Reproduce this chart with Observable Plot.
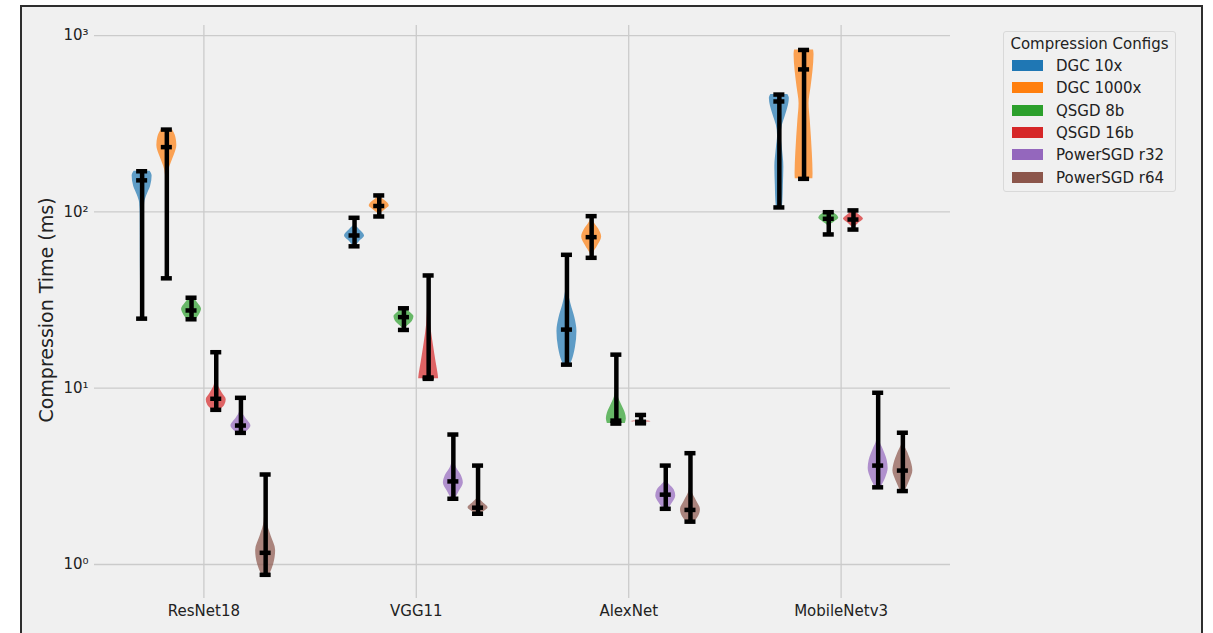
<!DOCTYPE html>
<html><head><meta charset="utf-8">
<script src="https://cdn.jsdelivr.net/npm/d3@7"></script>
<script src="https://cdn.jsdelivr.net/npm/@observablehq/plot@0.6"></script>
<style>
html,body{margin:0;padding:0;background:#fff;overflow:hidden;width:1213px;height:633px;font-family:"DejaVu Sans",sans-serif;}
#fig{position:absolute;left:20px;top:5px;width:1179px;height:700px;border:2px solid #2e2e2e;background:#f0f0f0;}
#chart{position:absolute;left:0;top:0;}
#legend{position:absolute;left:1003px;top:31px;width:173px;height:161px;border:1px solid #d9d9d9;border-radius:3px;box-sizing:border-box;color:#222;font-size:15px;}
#legend .title{position:absolute;left:0;right:0;top:3px;text-align:center;line-height:18px;white-space:nowrap;}
#legend .item{position:absolute;left:8px;height:18px;line-height:18px;white-space:nowrap;}
#legend .sw{position:absolute;left:0;top:3px;width:31px;height:11px;}
#legend .lab{position:absolute;left:44px;top:0;}
</style></head>
<body>
<div id="fig"></div>
<div id="chart"></div>
<div id="legend"></div>
<script>
const groups = ["ResNet18", "VGG11", "AlexNet", "MobileNetv3"];
const configs = ["DGC 10x", "DGC 1000x", "QSGD 8b", "QSGD 16b", "PowerSGD r32", "PowerSGD r64"];
const colors = ["#1f77b4", "#ff7f0e", "#2ca02c", "#d62728", "#9467bd", "#8c564b"];
const yTicks = [1, 10, 100, 1000];

// per group, per config (ms)
const minTimes = [
  [24.8, 42, 24.6, 7.54, 5.58, 0.874],
  [63.8, 94.2, 21.4, 11.3, 2.36, 1.94],
  [13.6, 54.9, 6.3, 6.32, 2.07, 1.75],
  [106, 154, 74.5, 79.4, 2.74, 2.61]
];
const medianTimes = [
  [151, 233, 27.6, 8.71, 6.14, 1.165],
  [73.5, 108, 25.3, 11.5, 2.96, 2.10],
  [21.5, 71.9, 6.55, 6.45, 2.49, 2.04],
  [423, 643, 91.4, 90.5, 3.64, 3.41]
];
const maxTimes = [
  [170, 293, 32.6, 16.0, 8.82, 3.24],
  [92.6, 124, 28.4, 43.6, 5.46, 3.64],
  [57.1, 94.6, 15.5, 7.05, 3.64, 4.28],
  [463, 829, 99.6, 102, 9.42, 5.59]
];

// violin outlines: [time (ms), relative density width]
const resnetShapes = [
  [[170,0.8],[160,1.0],[140,0.85],[125,0.5],[112,0.25],[95,0.2],[50,0.18],[24.8,0.12]],
  [[293,0.55],[265,0.9],[238,1.0],[210,0.75],[190,0.45],[172,0.2],[150,0.1],[100,0.07],[42,0.05]],
  [[32.6,0.2],[30.5,0.6],[28,1.0],[26.5,0.85],[25.2,0.6],[24.6,0.4]],
  [[16,0.03],[12,0.06],[10.4,0.2],[9.4,0.6],[8.6,1.0],[8.0,0.85],[7.54,0.4]],
  [[8.82,0.03],[7.3,0.15],[6.8,0.45],[6.1,1.0],[5.8,0.75],[5.58,0.4]],
  [[3.24,0.03],[2.2,0.06],[1.75,0.15],[1.45,0.55],[1.2,1.0],[1.0,0.8],[0.874,0.4]]
];
const vggShapes = [
  [[92.6,0.03],[84,0.1],[80,0.45],[73,1.0],[68,0.5],[63.8,0.1]],
  [[124,0.03],[119,0.3],[113,0.8],[108,1.0],[103,0.6],[98,0.15],[94.2,0.03]],
  [[28.4,0.2],[27,0.6],[25.5,1.0],[24,0.85],[22.5,0.35],[21.4,0.05]],
  [[43.6,0.05],[30,0.1],[23,0.2],[18,0.45],[14,0.75],[12,0.95],[11.3,1.0]],
  [[5.46,0.03],[4,0.08],[3.55,0.3],[3.2,0.8],[2.9,1.0],[2.6,0.6],[2.36,0.2]],
  [[3.64,0.03],[2.4,0.08],[2.25,0.5],[2.1,1.0],[2.0,0.6],[1.94,0.2]]
];
const alexShapes = [
  [[57.1,0.02],[40,0.05],[35,0.15],[30,0.4],[25,0.8],[21,1.0],[17,0.85],[14.5,0.55],[13.6,0.35]],
  [[94.6,0.03],[88,0.2],[80,0.7],[72,1.0],[64,0.6],[58,0.15],[54.9,0.03]],
  [[15.5,0.03],[10,0.05],[8.9,0.2],[8,0.55],[7.2,0.9],[6.7,1.0],[6.3,0.9]],
  [[7.05,0.0],[6.6,0.03],[6.45,1.0],[6.4,0.05],[6.32,0.0]],
  [[3.64,0.03],[3.0,0.08],[2.85,0.35],[2.65,0.85],[2.45,1.0],[2.25,0.7],[2.07,0.25]],
  [[4.28,0.03],[3,0.05],[2.6,0.15],[2.3,0.6],[2.05,1.0],[1.85,0.75],[1.75,0.4]]
];
const mobileShapes = [
  [[463,0.85],[440,1.0],[400,0.9],[350,0.6],[310,0.3],[270,0.18],[230,0.3],[180,0.45],[140,0.4],[115,0.35],[106,0.3]],
  [[829,0.95],[780,1.0],[634,0.9],[510,0.7],[412,0.5],[330,0.62],[214,0.83],[165,0.9],[154,0.88]],
  [[99.6,0.4],[96,0.8],[92,1.0],[88,0.6],[84,0.15],[78,0.05],[74.5,0.03]],
  [[102,0.1],[97,0.5],[91,1.0],[86,0.5],[82,0.15],[79.4,0.05]],
  [[9.42,0.03],[6,0.05],[5.05,0.15],[4.5,0.5],[3.9,0.9],[3.5,1.0],[3.1,0.75],[2.8,0.4],[2.74,0.35]],
  [[5.59,0.03],[4.85,0.1],[4.3,0.5],[3.7,0.9],[3.4,1.0],[3.0,0.7],[2.7,0.35],[2.61,0.25]]
];
const shapes = [resnetShapes, vggShapes, alexShapes, mobileShapes];

const slot = 0.1163, half = 0.047, capHalf = 0.026;
const pos = (g, c) => g + (c - 2.5) * slot;

const violinRows = [], barRows = [], capRows = [];
groups.forEach((gName, g) => {
  configs.forEach((cName, c) => {
    const p = pos(g, c);
    shapes[g][c].forEach(([v, w]) => violinRows.push({id: g * 6 + c, config: cName, v, x1: p - w * half, x2: p + w * half}));
    barRows.push({x: p, lo: minTimes[g][c], hi: maxTimes[g][c]});
    [minTimes[g][c], medianTimes[g][c], maxTimes[g][c]].forEach(v => capRows.push({v, x1: p - capHalf, x2: p + capHalf}));
  });
});

const sup = {0: "⁰", 1: "¹", 2: "²", 3: "³"};

const chart = Plot.plot({
  width: 1213, height: 633,
  marginLeft: 94, marginRight: 263, marginTop: 25, marginBottom: 35,
  style: {background: "transparent", fontFamily: "DejaVu Sans, sans-serif", fontSize: "15px", color: "#222"},
  x: {type: "linear", domain: [-0.515, 3.515], axis: null},
  y: {type: "log", domain: [0.6415, 1141], axis: null},
  color: {domain: configs, range: colors},
  marks: [
    Plot.ruleY(yTicks, {stroke: "#cbcbcb", strokeWidth: 1.3}),
    Plot.ruleX([0, 1, 2, 3], {stroke: "#cbcbcb", strokeWidth: 1.3}),
    Plot.axisY(yTicks, {tickSize: 0, tickPadding: 6, tickFormat: d => "10" + sup[Math.round(Math.log10(d))], label: null, fontSize: 15}),
    Plot.axisX([0, 1, 2, 3], {tickSize: 0, tickPadding: 7, tickFormat: i => groups[i], label: null, fontSize: 15}),
    Plot.areaX(violinRows, {y: "v", x1: "x1", x2: "x2", z: "id", fill: "config", fillOpacity: 0.7, curve: "monotone-y"}),
    Plot.ruleX(barRows, {x: "x", y1: "lo", y2: "hi", stroke: "black", strokeWidth: 4.5}),
    Plot.ruleY(capRows, {y: "v", x1: "x1", x2: "x2", stroke: "black", strokeWidth: 4.5}),
    Plot.text(["Compression Time (ms)"], {frameAnchor: "left", textAnchor: "middle", lineAnchor: "middle", dx: -48, dy: -2, rotate: -90, fontSize: 19, fill: "#222"})
  ]
});
document.getElementById("chart").appendChild(chart);

const legend = document.getElementById("legend");
const t = document.createElement("div");
t.className = "title"; t.textContent = "Compression Configs";
legend.appendChild(t);
configs.forEach((name, i) => {
  const it = document.createElement("div");
  it.className = "item";
  it.style.top = (25 + i * 22.3) + "px";
  it.innerHTML = `<span class="sw" style="background:${colors[i]}"></span><span class="lab">${name}</span>`;
  legend.appendChild(it);
});
</script>
</body></html>
